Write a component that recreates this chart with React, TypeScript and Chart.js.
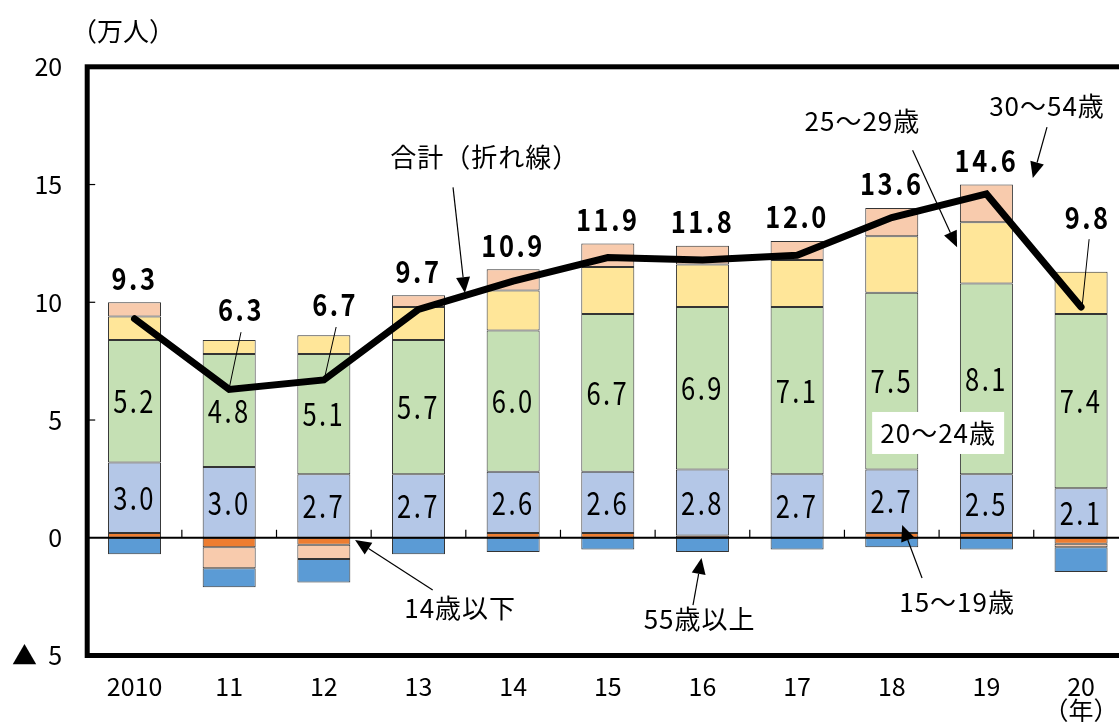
import React, { useEffect, useRef } from "react";
import { Chart, registerables } from "chart.js";

Chart.register(...registerables);

// ---------- data ----------
const years: (string | string[])[] = ["2010", "11", "12", "13", "14", "15", "16", "17", "18", "19", ["20", "（年）"]];
const seriesNames = ["14歳以下", "15～19歳", "20～24歳", "25～29歳", "30～54歳", "55歳以上"];
const age14under = [0.2, -0.4, -0.3, 0.0, 0.2, 0.2, 0.1, 0.0, 0.2, 0.2, -0.25];
const age15to19 = [3.0, 3.0, 2.7, 2.7, 2.6, 2.6, 2.8, 2.7, 2.7, 2.5, 2.1];
const age20to24 = [5.2, 4.8, 5.1, 5.7, 6.0, 6.7, 6.9, 7.1, 7.5, 8.1, 7.4];
const age25to29 = [1.0, 0.6, 0.8, 1.4, 1.7, 2.0, 1.8, 2.0, 2.4, 2.6, 1.8];
const age30to54 = [0.6, -0.9, -0.6, 0.5, 0.9, 1.0, 0.8, 0.8, 1.2, 1.6, -0.15];
const age55over = [-0.7, -0.8, -1.0, -0.7, -0.6, -0.5, -0.6, -0.5, -0.4, -0.5, -1.05];
const totals = [9.3, 6.3, 6.7, 9.7, 10.9, 11.9, 11.8, 12.0, 13.6, 14.6, 9.8];
const yTickValues = [-5, 0, 5, 10, 15, 20];

// ---------- styles / layout ----------
const colors = ["#ED7D31", "#B4C7E7", "#C5E0B4", "#FFE699", "#F8CBAD", "#5B9BD5"];
const FONT = '"Noto Sans CJK JP", "Noto Sans", sans-serif';

// total labels that need a leader line (data coordinates: category index, value)
const totalLabelSpecial: Record<number, { x: number; y: number; from: [number, number]; to: [number, number] }> = {
  1: { x: 1.125, y: 9.7, from: [1.125, 8.73], to: [1.005, 6.44] },
  2: { x: 2.12, y: 9.91, from: [2.13, 8.95], to: [2.01, 6.83] },
  10: { x: 10.07, y: 13.58, from: [10.085, 12.68], to: [10.01, 9.79] },
};

// annotation labels with arrows (data coordinates)
const annotations: { text: string; x: number; y: number; from?: [number, number]; to?: [number, number]; box?: boolean }[] = [
  { text: "合計（折れ線）", x: 3.7, y: 16.17, from: [3.365, 14.88], to: [3.49, 10.39] },
  { text: "25～29歳", x: 7.69, y: 17.69, from: [8.22, 16.46], to: [8.69, 12.34] },
  { text: "30～54歳", x: 9.64, y: 18.33, from: [9.64, 17.44], to: [9.49, 15.28] },
  { text: "20～24歳", x: 8.49, y: 4.45, box: true },
  { text: "15～19歳", x: 8.69, y: -2.73, from: [8.32, -1.71], to: [8.11, 0.54] },
  { text: "55歳以上", x: 5.97, y: -3.45, from: [5.9, -2.86], to: [5.99, -0.86] },
  { text: "14歳以下", x: 3.44, y: -2.98, from: [3.15, -2.22], to: [2.33, -0.09] },
];

function drawText(
  ctx: CanvasRenderingContext2D,
  text: string,
  x: number,
  y: number,
  size: number,
  opts: { bold?: boolean; sx?: number; spacing?: number } = {}
) {
  ctx.save();
  ctx.font = `${opts.bold ? "bold " : ""}${size}px ${FONT}`;
  (ctx as any).letterSpacing = `${opts.spacing ?? 0}px`;
  ctx.fillStyle = "#000";
  ctx.textAlign = "center";
  ctx.textBaseline = "middle";
  ctx.translate(x, y);
  ctx.scale(opts.sx ?? 1, 1);
  ctx.fillText(text, 0, 0);
  ctx.restore();
}

function drawArrow(ctx: CanvasRenderingContext2D, x1: number, y1: number, x2: number, y2: number) {
  const head = 16;
  const hw = 7;
  const ang = Math.atan2(y2 - y1, x2 - x1);
  const bx = x2 - head * Math.cos(ang);
  const by = y2 - head * Math.sin(ang);
  ctx.save();
  ctx.strokeStyle = "#000";
  ctx.fillStyle = "#000";
  ctx.lineWidth = 1.2;
  ctx.beginPath();
  ctx.moveTo(x1, y1);
  ctx.lineTo(bx, by);
  ctx.stroke();
  ctx.beginPath();
  ctx.moveTo(x2, y2);
  ctx.lineTo(bx + hw * Math.sin(ang), by - hw * Math.cos(ang));
  ctx.lineTo(bx - hw * Math.sin(ang), by + hw * Math.cos(ang));
  ctx.closePath();
  ctx.fill();
  ctx.restore();
}

const decorPlugin = {
  id: "decor",
  afterDraw(chart: any) {
    const ctx: CanvasRenderingContext2D = chart.ctx;
    const xs = chart.scales.x;
    const ys = chart.scales.y;
    const { left, right, top, bottom } = chart.chartArea;
    const px = (v: number) => xs.getPixelForValue(v);
    const py = (v: number) => ys.getPixelForValue(v);
    const y0 = py(0);

    ctx.save();
    // zero line
    ctx.strokeStyle = "#000";
    ctx.lineWidth = 2;
    ctx.beginPath();
    ctx.moveTo(left, y0);
    ctx.lineTo(right, y0);
    ctx.stroke();
    // category boundary ticks
    ctx.lineWidth = 1.2;
    for (let k = 0; k < years.length; k++) {
      const x = px(k + 0.5);
      ctx.beginPath();
      ctx.moveTo(x, y0);
      ctx.lineTo(x, y0 - 8);
      ctx.stroke();
    }
    // y inner ticks
    for (const v of yTickValues) {
      if (v === 0 || v === 20 || v === -5) continue;
      ctx.beginPath();
      ctx.moveTo(left, py(v));
      ctx.lineTo(left + 8, py(v));
      ctx.stroke();
    }
    // frame
    ctx.lineWidth = 5;
    ctx.strokeRect(left, top, right - left, bottom - top);
    ctx.restore();

    // unit label
    drawText(ctx, "（万人）", 123, 31, 26);

    // segment labels (15～19, 20～24)
    [1, 2].forEach((di) => {
      const meta = chart.getDatasetMeta(di);
      const vals = chart.data.datasets[di].data as number[];
      meta.data.forEach((bar: any, i: number) => {
        const cy = (bar.y + bar.base) / 2;
        drawText(ctx, vals[i].toFixed(1), bar.x, cy, 32, { sx: 0.8, spacing: 3 });
      });
    });

    // total labels
    totals.forEach((t, i) => {
      const sp = totalLabelSpecial[i];
      const label = t.toFixed(1);
      if (sp) {
        ctx.save();
        ctx.strokeStyle = "#000";
        ctx.lineWidth = 1;
        ctx.beginPath();
        ctx.moveTo(px(sp.from[0]), py(sp.from[1]));
        ctx.lineTo(px(sp.to[0]), py(sp.to[1]));
        ctx.stroke();
        ctx.restore();
        drawText(ctx, label, px(sp.x), py(sp.y), 30, { bold: true, sx: 0.85, spacing: 3 });
      } else {
        const posTop = [age14under, age15to19, age20to24, age25to29, age30to54, age55over].reduce(
          (s, arr) => s + Math.max(arr[i], 0),
          0
        );
        drawText(ctx, label, px(i), py(posTop) - 24, 30, { bold: true, sx: 0.85, spacing: 3 });
      }
    });

    // annotations
    annotations.forEach((a) => {
      const x = px(a.x);
      const y = py(a.y);
      if (a.box) {
        ctx.save();
        ctx.fillStyle = "#fff";
        ctx.fillRect(x - 66, y - 21, 132, 42);
        ctx.restore();
      }
      drawText(ctx, a.text, x, y, 26, { spacing: 1 });
      if (a.from && a.to) {
        drawArrow(ctx, px(a.from[0]), py(a.from[1]), px(a.to[0]), py(a.to[1]));
      }
    });
  },
};

export default function App() {
  const ref = useRef<HTMLCanvasElement>(null);

  useEffect(() => {
    const canvas = ref.current!;
    const seriesData = [age14under, age15to19, age20to24, age25to29, age30to54, age55over];
    const chart = new Chart(canvas, {
      type: "bar",
      data: {
        labels: years as any,
        datasets: [
          ...seriesData.map((d, i) => ({
            type: "bar" as const,
            label: seriesNames[i],
            data: d,
            backgroundColor: colors[i],
            borderColor: "rgba(30,30,30,0.9)",
            borderWidth: 1,
            borderSkipped: false as any,
            barPercentage: 0.56,
            categoryPercentage: 1.0,
            order: 1,
            stack: "ages",
          })),
          {
            type: "line" as const,
            label: "合計",
            data: totals,
            borderColor: "#000",
            borderWidth: 7,
            pointRadius: 0,
            tension: 0,
            borderCapStyle: "round" as const,
            borderJoinStyle: "miter" as const,
            order: 0,
            stack: "total",
          } as any,
        ],
      },
      options: {
        responsive: false,
        devicePixelRatio: 1,
        animation: false,
        layout: { padding: { top: 66.8, right: 31.6, left: 0, bottom: 0 } },
        plugins: { legend: { display: false }, tooltip: { enabled: false } },
        scales: {
          x: {
            stacked: true,
            offset: true,
            grid: { display: false, drawTicks: false },
            border: { display: false },
            ticks: {
              color: "#000",
              font: { family: FONT, size: 25, lineHeight: 0.96 },
              padding: 18.5,
              maxRotation: 0,
              autoSkip: false,
            },
            afterFit: (s: any) => {
              s.height = 66.5;
            },
          },
          y: {
            stacked: true,
            min: -5,
            max: 20,
            grid: { display: false, drawTicks: false },
            border: { display: false },
            ticks: {
              stepSize: 5,
              color: "#000",
              font: { family: FONT, size: 25 },
              padding: 25,
              callback: (v: any) => (Number(v) < 0 ? "▲  " + Math.abs(Number(v)) : String(v)),
            },
            afterFit: (s: any) => {
              s.width = 87.2;
            },
          },
        },
      },
      plugins: [decorPlugin],
    });
    return () => chart.destroy();
  }, []);

  return (
    <div
      style={{
        position: "absolute",
        left: 0,
        top: 0,
        width: 1119,
        height: 722,
        overflow: "hidden",
        background: "#fff",
      }}
    >
      <canvas ref={ref} width={1160} height={722} style={{ display: "block", width: 1160, height: 722 }} />
    </div>
  );
}
